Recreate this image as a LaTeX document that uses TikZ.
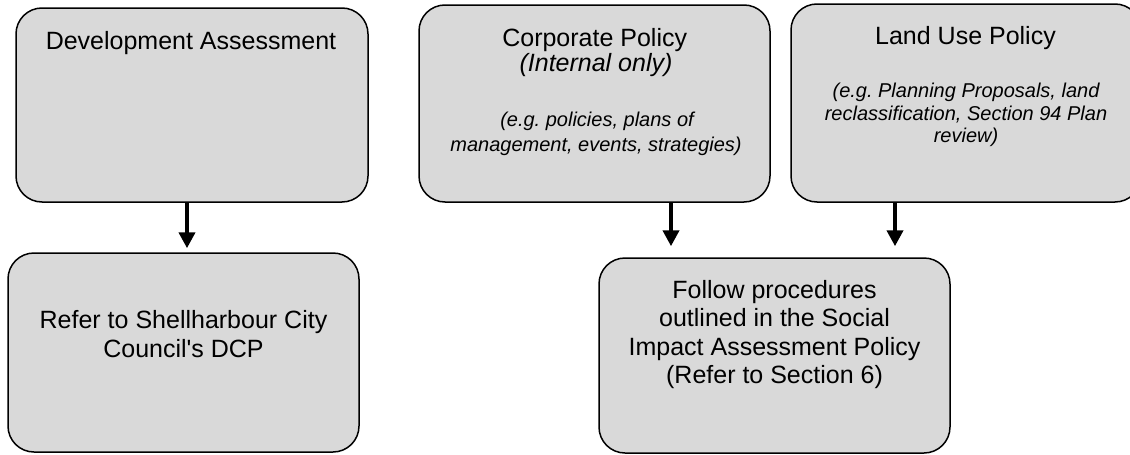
\documentclass[tikz,border=0pt]{standalone}
\usepackage{fontspec}
\setmainfont{Liberation Sans}
\usetikzlibrary{arrows.meta}
\frenchspacing

\begin{document}
\begin{tikzpicture}[x=1pt,y=-1pt,
  box/.style={draw=black, line width=1.5pt, fill=boxgray, rounded corners=26pt,
    rectangle, inner sep=0pt, minimum width=351pt, minimum height=196pt},
  lbl/.style={anchor=base, inner sep=0pt, font=\fontsize{25}{28}\selectfont},
  note/.style={anchor=base, inner sep=0pt, font=\fontsize{20}{23}\selectfont\itshape},
  conn/.style={line width=4.5pt, -{Triangle[width=16pt,length=16pt]}}]
\definecolor{boxgray}{HTML}{D9D9D9}
\useasboundingbox (0,0) rectangle (1130,455);
\clip (0,0) rectangle (1130,455);

% boxes
\node[box, minimum width=352pt, minimum height=194pt] (dev)  at (192,105) {};
\node[box, minimum height=197pt] (corp) at (594.5,103.5) {};
\node[box, minimum width=350pt, minimum height=198pt] (land) at (966,103) {};
\node[box, minimum height=199pt] (dcp)  at (183.5,352.5) {};
\node[box, minimum height=195pt] (sia)  at (774.5,355.5) {};

% Development Assessment
\node[lbl] (devT) at (191,49) {Development Assessment};

% Corporate Policy
\node[lbl] (corpT) at (594.7,46) {Corporate Policy};
\node[lbl, font=\fontsize{25}{28}\selectfont\itshape] (corpI) at (596,71.5) {(Internal only)};
\node[note] (corpN1) at (597,126.7) {(e.g. policies, plans of};
\node[note] (corpN2) at (596,151) {management, events, strategies)};

% Land Use Policy
\node[lbl] (landT) at (965.5,44) {Land Use Policy};
\node[note] (landN1) at (966,97) {(e.g. Planning Proposals, land};
\node[note] (landN2) at (966,120) {reclassification, Section 94 Plan};
\node[note] (landN3) at (966,142) {review)};

% Refer to DCP
\node[lbl] (dcpT1) at (183.5,328) {Refer to Shellharbour City};
\node[lbl] (dcpT2) at (183.5,357) {Council\textquotesingle s DCP};

% Social Impact Assessment procedures
\node[lbl] (siaT1) at (774.5,298) {Follow procedures};
\node[lbl] (siaT2) at (774.5,326.5) {outlined in the Social};
\node[lbl] (siaT3) at (774.5,355) {Impact Assessment Policy};
\node[lbl] (siaT4) at (774.5,383.5) {(Refer to Section 6)};

% connectors
\coordinate (xa) at (187,0);
\coordinate (xb) at (671,0);
\coordinate (xc) at (895,0);
\draw[conn, shorten >=4pt]  (dev.south -| xa)  -- (dcp.north -| xa);
\draw[conn, shorten >=11pt] (corp.south -| xb) -- (sia.north -| xb);
\draw[conn, shorten >=11pt] (land.south -| xc) -- (sia.north -| xc);
\end{tikzpicture}
\end{document}
